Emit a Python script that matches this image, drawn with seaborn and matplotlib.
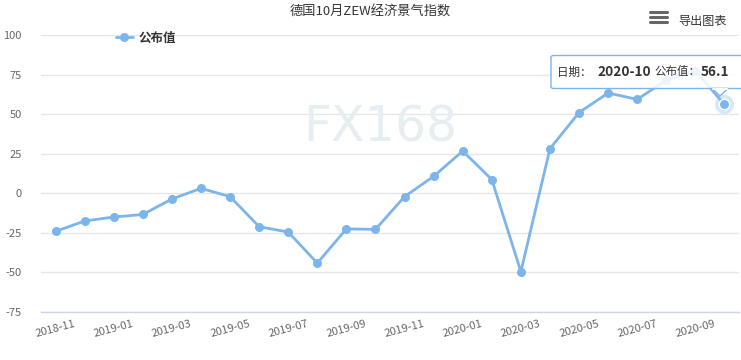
import matplotlib
matplotlib.use("Agg")
import matplotlib.pyplot as plt
import seaborn as sns
import pandas as pd
from matplotlib.patches import FancyBboxPatch, Polygon

dates = ["2018-11", "2018-12", "2019-01", "2019-02", "2019-03", "2019-04",
         "2019-05", "2019-06", "2019-07", "2019-08", "2019-09", "2019-10",
         "2019-11", "2019-12", "2020-01", "2020-02", "2020-03", "2020-04",
         "2020-05", "2020-06", "2020-07", "2020-08", "2020-09", "2020-10"]
values = [-24.1, -17.5, -15.0, -13.4, -3.6, 3.1, -2.1, -21.1, -24.5, -44.1,
          -22.5, -22.8, -2.1, 10.7, 26.7, 8.7, -49.5, 28.2, 51.0, 63.4,
          59.3, 71.5, 77.4, 56.1]
yticks = [-75, -50, -25, 0, 25, 50, 75, 100]
series_name = "公布值"
title = "德国10月ZEW经济景气指数"

sns.set_theme(style="white")
plt.rcParams['font.family'] = ['Noto Sans CJK SC', 'DejaVu Sans']

W, H = 741, 360
fig = plt.figure(figsize=(W / 100, H / 100), dpi=100)
ax = fig.add_axes([41 / W, 1 - 312 / H, (739 - 41) / W, (312 - 35) / H])

def fx(x):
    return x / W

def fy(y):
    return 1 - y / H

color = "#7cb5ec"
df = pd.DataFrame({"idx": range(len(dates)), "date": dates, "value": values})

# watermark
fig.text(fx(380), fy(127), "FX168", fontsize=35, color="#e7eef2",
         ha="center", va="center", family="DejaVu Sans", zorder=0)

sns.lineplot(data=df, x="idx", y="value", ax=ax, color=color, linewidth=2.0,
             marker="o", markersize=6.5, markeredgewidth=0, label=series_name,
             zorder=3)

# hover halo on last point
ax.scatter([df["idx"].iloc[-1]], [df["value"].iloc[-1]], s=190, color=color,
           alpha=0.3, linewidths=0, zorder=4)
ax.scatter([df["idx"].iloc[-1]], [df["value"].iloc[-1]], s=55, color=color,
           edgecolors="white", linewidths=1.0, zorder=5)

ax.set_xlim(-0.5, len(dates) - 0.5)
ax.set_ylim(-75, 100)
ax.set_yticks(yticks)
ax.set_yticklabels([str(t) for t in yticks])
ax.set_xticks(df["idx"][::2])
ax.set_xticklabels(df["date"][::2], rotation=15, ha="center",
                   rotation_mode="default")
ax.tick_params(axis="y", length=0, pad=14, labelsize=8, labelcolor="#666666")
ax.tick_params(axis="x", length=0, pad=5, labelsize=8, labelcolor="#666666")

ax.grid(axis="y", color="#e6e6e6", linewidth=1)
ax.set_axisbelow(True)
for s in ["top", "right", "left"]:
    ax.spines[s].set_visible(False)
ax.spines["bottom"].set_color("#ccd6eb")
ax.spines["bottom"].set_linewidth(1)
ax.set_xlabel("")
ax.set_ylabel("")
ax.patch.set_alpha(0)

leg = ax.legend(loc="center left", bbox_to_anchor=(fx(105), fy(38)),
                bbox_transform=fig.transFigure, frameon=False,
                handlelength=1.3, handletextpad=0.5, fontsize=9)
for t in leg.get_texts():
    t.set_fontweight("bold")
    t.set_color("#333333")

fig.text(fx(370), fy(12), title, fontsize=9.5, color="#333333",
         ha="center", va="center")

# menu icon
for yy in [11.7, 16.7, 21.7]:
    fig.add_artist(plt.Line2D([fx(650), fx(667)], [fy(yy), fy(yy)],
                              color="#666666", linewidth=2.2,
                              transform=fig.transFigure))
fig.text(fx(678), fy(21), "导出图表", fontsize=8.7, color="#333333",
         ha="left", va="center")

# tooltip
box = FancyBboxPatch((fx(551), fy(88.5)), fx(215), fy(55.5) - fy(88.5),
                     boxstyle="round,pad=0,rounding_size=0.004",
                     transform=fig.transFigure, facecolor=(1, 1, 1, 0.85),
                     edgecolor=color, linewidth=1, zorder=10)
fig.add_artist(box)
tri = Polygon([[fx(712), fy(88.5)], [fx(720), fy(96)], [fx(728), fy(88.5)]],
              closed=True, transform=fig.transFigure,
              facecolor=(1, 1, 1, 0.85), edgecolor=color, linewidth=1,
              zorder=10)
fig.add_artist(tri)
fig.add_artist(plt.Line2D([fx(713), fx(727)], [fy(88.5), fy(88.5)],
                          color="white", linewidth=1.5,
                          transform=fig.transFigure, zorder=11))
ty = fy(72)
fig.text(fx(557), ty, "日期：", fontsize=8.3, color="#333333", va="center", zorder=12)
fig.text(fx(597), ty, dates[-1], fontsize=9.8, color="#333333", va="center",
         fontweight="bold", zorder=12)
fig.text(fx(654), ty, series_name + "：", fontsize=8.3, color="#333333",
         va="center", zorder=12)
fig.text(fx(701), ty, f"{values[-1]}", fontsize=9.8, color="#333333",
         va="center", fontweight="bold", zorder=12)

fig.savefig("out.png", dpi=100)
